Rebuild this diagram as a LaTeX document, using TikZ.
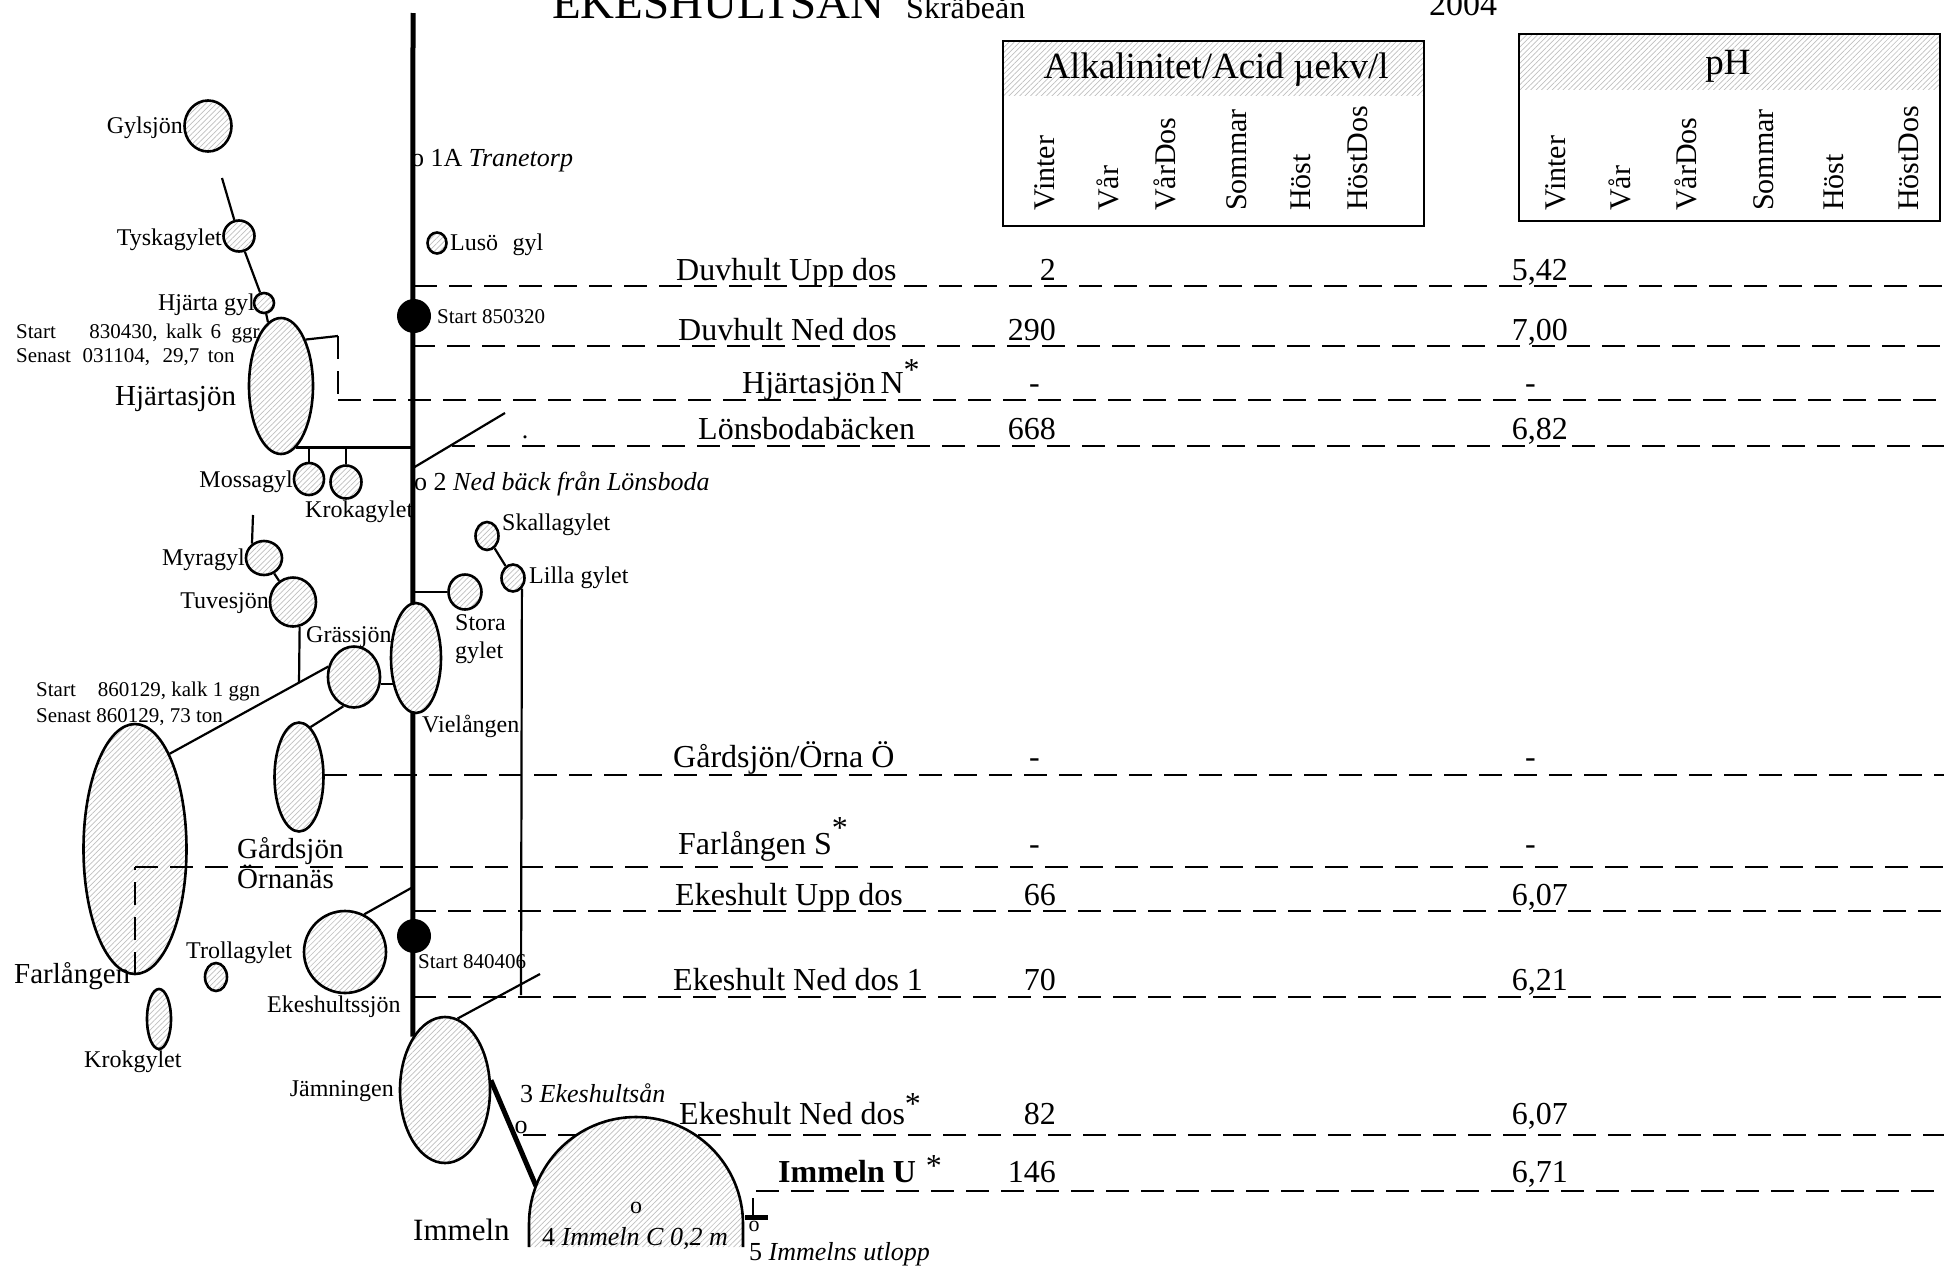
\documentclass[tikz,border=0pt]{standalone}
\usepackage{fontspec}
\setmainfont{Liberation Serif}
\usetikzlibrary{shapes.geometric,patterns.meta,backgrounds}
\newcommand{\fsz}[1]{\fontsize{#1}{#1}\selectfont}
\tikzstyle{hatch}=[pattern={Lines[angle=45,distance=3.8pt,line width=0.7pt]},pattern color=black!25]
\tikzstyle{lake}=[ellipse,draw,line width=2.6pt,inner sep=0pt,preaction={fill=white},hatch]
\tikzstyle{startdot}=[circle,fill=black,inner sep=0pt,minimum size=34pt]
\tikzstyle{river}=[draw,line width=5pt]
\tikzstyle{trib}=[draw,line width=2.2pt]
\tikzstyle{rowline}=[draw,line width=2.7pt,dash pattern=on 23pt off 12pt]
\tikzstyle{lbl}=[inner sep=0pt,font=\fsz{24}]
\tikzstyle{biglbl}=[inner sep=0pt,anchor=base west,font=\fsz{29}]
\tikzstyle{note}=[inner sep=0pt,anchor=base west,font=\fsz{21}]
\tikzstyle{stn}=[inner sep=0pt,anchor=base west,font=\fsz{26}]
\tikzstyle{rowlbl}=[inner sep=0pt,anchor=base west,font=\fsz{32}]
\tikzstyle{val}=[inner sep=0pt,anchor=base east,font=\fsz{32}]
\tikzstyle{colhd}=[inner sep=0pt,anchor=base west,rotate=90,font=\fsz{30}]
\tikzstyle{hdbox}=[draw,line width=2.6pt]
\begin{document}
\begin{tikzpicture}[x=1pt,y=-1pt]
\useasboundingbox (0,0) rectangle (1944,1266);

    % lakes
    \foreach \pos/\name/\w/\h in {{(208,126)/gyl/47/51},{(239,236)/tyska/31/31},{(264,303)/hjgyl/20/20},
        {(281,386)/hjsjon/64/136},{(437,243)/luso/19/21},{(309,479)/mossa/30/32},{(346,482)/kroka/31/33},
        {(264,558)/myra/36/34},{(293,602)/tuve/46/49},{(354,677)/grass/52/61},{(416,658)/viel/50/110},
        {(465,592)/stora/33/35},{(487,536)/skalla/23/28},{(513,578)/lilla/23/27},{(135,849)/farl/103/250},
        {(299,777)/gards/49/109},{(345,952)/ekesjon/82/82},{(216,977)/troll/22/28},{(159,1019)/krokg/24/60},
        {(445,1090)/jamn/90/146}}
        \node[lake,minimum width=\w pt,minimum height=\h pt] (\name) at \pos {};

    \node[startdot] (st1) at (414,316) {};
    \node[startdot] (st2) at (414,936) {};

    \coordinate (mtop) at (413,13);
    \coordinate (immin) at (536,1186);
    \coordinate (gyltail) at (222,178);
    \coordinate (hjbr) at (338,336);
    \coordinate (lonsA) at (505,413);
    \coordinate (lonsB) at (413,468);
    \coordinate (myratail) at (253,515);
    \coordinate (tuvej) at (299,683);
    \coordinate (ekej) at (413,887);
    \coordinate (jamtail) at (540,974);
    \coordinate (lillaend) at (521,995);

    % river and the brooks
    \begin{scope}[on background layer]
    \draw[river] (mtop) -- (jamn.121);
    \draw[river] (jamn.12) -- (immin);
    \draw[trib] (gyltail) -- (tyska);
    \draw[trib] (tyska) -- (hjgyl);
    \draw[trib] (hjgyl) -- (hjsjon);
    \draw[trib] (hjsjon.62) -- (hjbr);
    \draw[trib] (hjsjon.-76) -- (hjsjon.-76 -| mtop);
    \draw[trib] (mossa.north) -- (mossa.north |- hjsjon.-76);
    \draw[trib] (kroka.north) -- (kroka.north |- hjsjon.-76);
    \draw[trib] (lonsA) -- (lonsB);
    \draw[trib] (myratail) -- (myra.130);
    \draw[trib] (myra) -- (tuve);
    \draw[trib] (tuve.-75) -- (tuvej);
    \draw[trib] (farl.70) -- (grass.158);
    \draw[trib] (grass.-15) -- (grass.-15 -| viel);
    \draw[trib] (gards.77) -- (grass.-110);
    \draw[trib] (stora) -- (stora -| mtop);
    \draw[trib] (skalla) -- (lilla);
    \draw[trib] (lilla.-50) -- (lillaend);
    \draw[trib] (ekej) -- (ekesjon.63);
    \draw[trib] (jamn.80) -- (jamtail);
    \end{scope}

    % sampling rows
    \foreach \name/\y/\xs/\xl/\bl/\lbl/\alk/\ph in {
        {duvupp/286/414/676/280/Duvhult Upp dos/2/5,42},
        {duvned/346/412/678/340/Duvhult Ned dos/290/7,00},
        {hjn/400/338/742/393/Hjärtasjön\hspace{5pt}N\raisebox{13pt}{*}/-\phantom{0}/-\phantom{00}},
        {lons/446/452/698/439/Lönsbodabäcken/668/6,82},
        {gardo/775/324/673/767/{Gårdsjön/Örna Ö}/-\phantom{0}/-\phantom{00}},
        {farls/867/135/678/854/Farlången S\raisebox{16pt}{*}/-\phantom{0}/-\phantom{00}},
        {ekeupp/911/413/675/905/Ekeshult Upp dos/66/6,07},
        {ekened/997/413/673/990/Ekeshult Ned dos 1/70/6,21},
        {ekened2/1135/523/679/1124/Ekeshult Ned dos\raisebox{10pt}{*}/82/6,07},
        {immu/1191/756/778/1182/\textbf{Immeln U}\hspace{10pt}\raisebox{6pt}{*}/146/6,71}}
    {
        \coordinate (\name-a) at (\xs,\y);
        \coordinate (\name-b) at (1944,\y);
        \draw[rowline] (\name-a) -- (\name-b);
        \node[rowlbl] (\name-t) at (\xl,\bl) {\lbl};
        \node[val] (\name-alk) at (1056,\bl) {\alk};
        \node[val] (\name-ph) at (1568,\bl) {\ph};
    }
    \draw[rowline] (hjbr) -- (hjn-a);
    \draw[rowline] (farl.south) -- (farls-a);

    % Immeln
    \draw[line width=2.6pt,preaction={fill=white},hatch] (529,1247) -- (529,1224)
        arc[start angle=180,end angle=360,radius=107] -- (743,1247);
    \coordinate (utlA) at (753,1198);
    \coordinate (utlB) at (753,1217);
    \coordinate (utlL) at (745,1217);
    \coordinate (utlR) at (768,1217);
    \draw[line width=1.8pt] (utlA) -- (utlB);
    \draw[line width=5pt] (utlL) -- (utlR);

    % header boxes
    \path[hatch] (1003,41) rectangle (1424,95);
    \draw[hdbox] (1003,41) rectangle (1424,226);
    \path[hatch] (1519,34) rectangle (1940,89);
    \draw[hdbox] (1519,34) rectangle (1940,221);
    \node[inner sep=0pt,anchor=base,font=\fsz{37}] (alk-t) at (1216,78) {Alkalinitet/Acid µekv/l};
    \node[inner sep=0pt,anchor=base,font=\fsz{37}] (ph-t) at (1728,74) {pH};
    \foreach \x/\name/\txt in {1054/a1/Vinter,1118/a2/Vår,1175/a3/VårDos,1246/a4/Sommar,1310/a5/Höst,1367/a6/HöstDos,
        1565/p1/Vinter,1630/p2/Vår,1696/p3/VårDos,1773/p4/Sommar,1843/p5/Höst,1918/p6/HöstDos}
        \node[colhd] (hd-\name) at (\x,211) {\txt};

    % title
    \node[inner sep=0pt,anchor=base west,font=\fsz{47}] (title) at (552,19) {EKESHULTSÅN};
    \node[inner sep=0pt,anchor=base west,font=\fsz{32}] (subtitle) at (906,19) {Skräbeån};
    \node[inner sep=0pt,anchor=base west,font=\fsz{34}] (year) at (1429,15) {2004};

    % lake names
    \foreach \pos/\name/\anc/\txt in {{(183,133)/gyl-l/base east/Gylsjön},{(222,245)/tyska-l/base east/Tyskagylet},
        {(255,310)/hjgyl-l/base east/Hjärta gyl},{(450,250)/luso-l/base west/Lusö\hspace{.6em}gyl},
        {(293,487)/mossa-l/base east/Mossagyl},{(305,517)/kroka-l/base west/Krokagylet},
        {(245,565)/myra-l/base east/Myragyl},{(269,608)/tuve-l/base east/Tuvesjön},
        {(306,642)/grass-l/base west/Grässjön},{(455,630)/stora-l/base west/Stora},
        {(455,658)/stora-l2/base west/gylet},{(502,530)/skalla-l/base west/Skallagylet},
        {(529,583)/lilla-l/base west/Lilla gylet},{(422,732)/viel-l/base west/Vielången},
        {(186,958)/troll-l/base west/Trollagylet},{(267,1012)/ekesjon-l/base west/Ekeshultssjön},
        {(84,1067)/krokg-l/base west/Krokgylet},{(394,1096)/jamn-l/base east/Jämningen}}
        \node[lbl,anchor=\anc] (\name) at \pos {\txt};
    \node[biglbl] (hjsjon-l) at (115,405) {Hjärtasjön};
    \node[biglbl] (gards-l) at (237,858) {Gårdsjön};
    \node[biglbl] (gards-l2) at (237,888) {Örnanäs};
    \node[biglbl] (farl-l) at (14,983) {Farlången};
    \node[biglbl,font=\fsz{31}] (imm-l) at (413,1240) {Immeln};

    % liming notes and stations
    \node[note] (hjnote1) at (16,338) {Start\hspace{1.6em}830430,\hspace{.4em}kalk\hspace{.4em}6\hspace{.5em}ggr};
    \node[note] (hjnote2) at (16,362) {Senast\hspace{.55em}031104,\hspace{.6em}29,7\hspace{.4em}ton};
    \node[note] (fanote1) at (36,696) {Start\hspace{1.05em}860129, kalk 1 ggn};
    \node[note] (fanote2) at (36,722) {Senast 860129, 73 ton};
    \node[note] (st1-l) at (437,323) {Start 850320};
    \node[note] (st2-l) at (418,968) {Start 840406};
    \node[stn] (tran-l) at (411,166) {o 1A \textit{Tranetorp}};
    \node[stn] (lons-l) at (414,490) {o 2 \textit{Ned bäck från Lönsboda}};
    \node[stn,anchor=center] (lons-dot) at (525,437) {.};
    \node[stn] (ekea-l) at (520,1102) {3 \textit{Ekeshultsån}};
    \node[stn,anchor=base] (ekea-o) at (521,1133) {o};
    \node[stn] (immc-l) at (542,1245) {4 \textit{Immeln C 0,2 m}};
    \node[stn,anchor=center,font=\fsz{24}] (immc-o) at (636,1208) {o};
    \node[stn,anchor=center,font=\fsz{22}] (utl-o) at (754,1226) {o};
    \node[stn] (utl-l) at (749,1260) {5 \textit{Immelns utlopp}};
\end{tikzpicture}
\end{document}
